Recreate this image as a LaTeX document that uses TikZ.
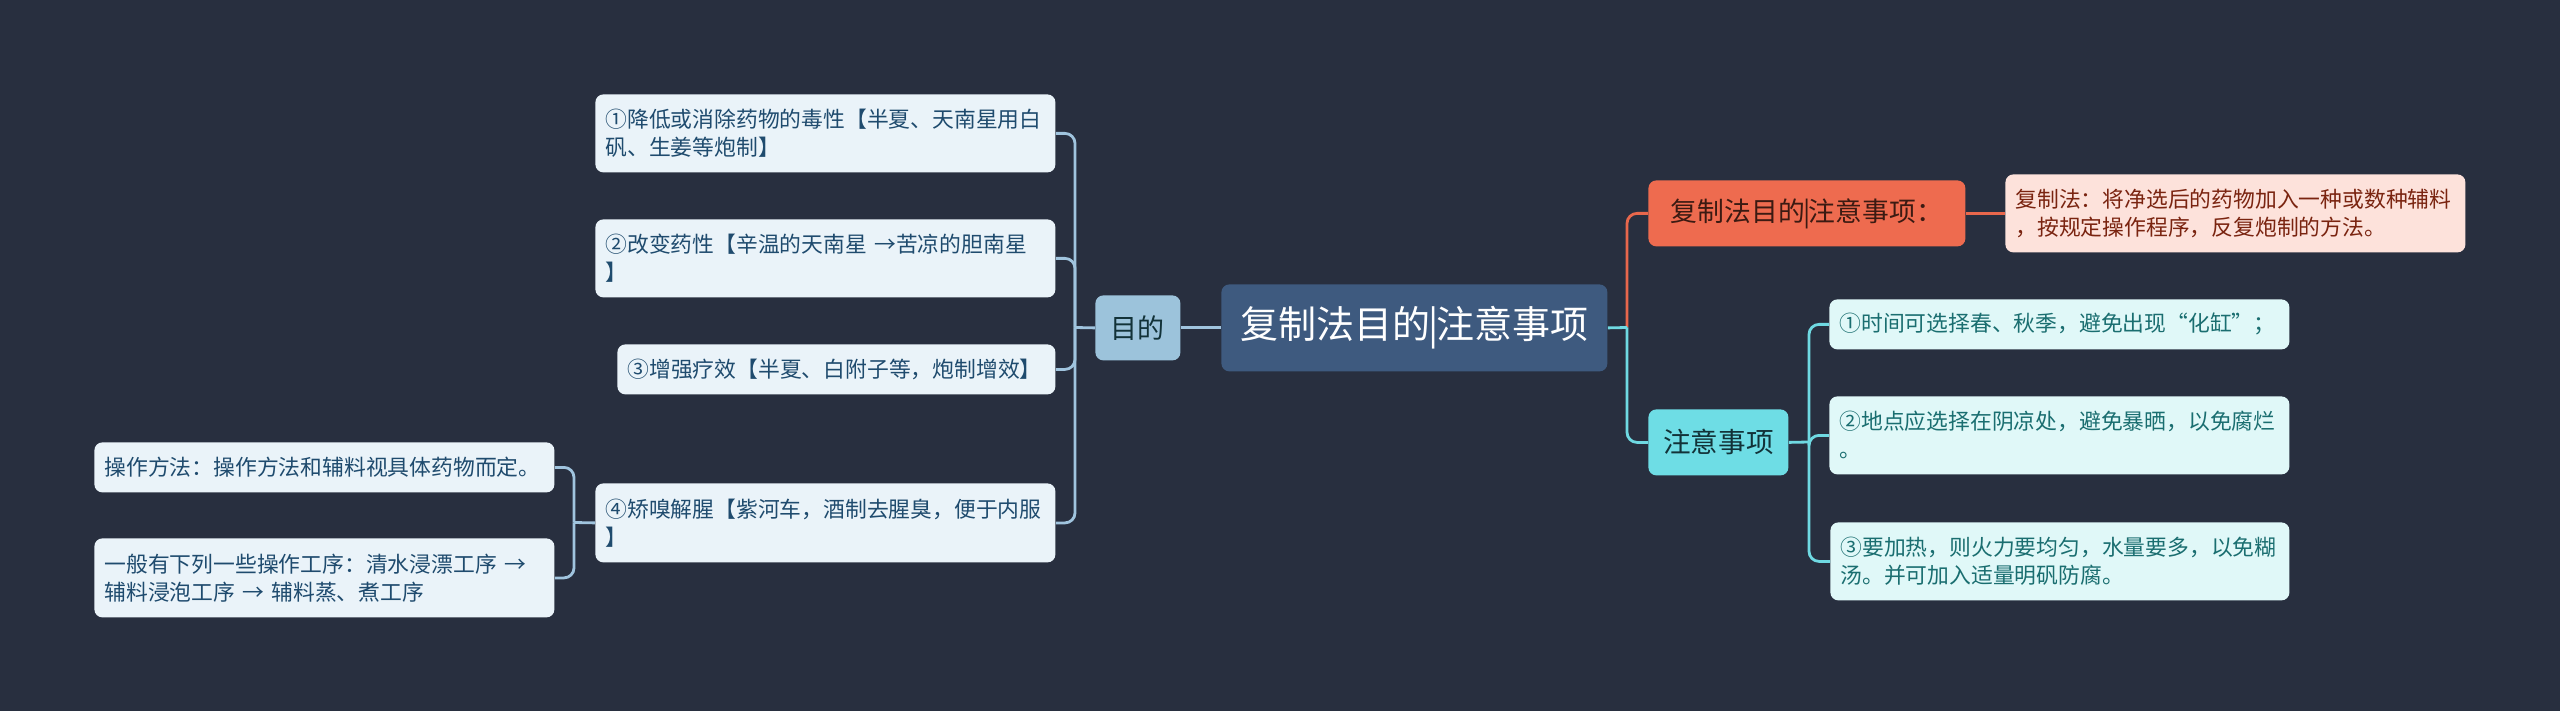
\documentclass[tikz,border=0pt]{standalone}
\usepackage{fontspec}
\setmainfont{Noto Sans CJK SC}
\definecolor{bg}{HTML}{282F3F}
\definecolor{leafL}{HTML}{EAF3F9}
\definecolor{leafLtext}{HTML}{1F4B6E}
\definecolor{mudi}{HTML}{9CC3DB}
\definecolor{mainc}{HTML}{3E5A7F}
\definecolor{orangec}{HTML}{EE6B4F}
\definecolor{orangetext}{HTML}{3B1A12}
\definecolor{deffill}{HTML}{FDE2DB}
\definecolor{deftext}{HTML}{7A2410}
\definecolor{zfill}{HTML}{6EDDE5}
\definecolor{ztext}{HTML}{123238}
\definecolor{rfill}{HTML}{E0F8F8}
\definecolor{rtext}{HTML}{1A6E70}
\definecolor{lblue}{HTML}{A0C4DE}
\definecolor{lorange}{HTML}{E8674C}
\definecolor{lcyan}{HTML}{6FD9E2}
\newcommand{\tightbar}{\kern-0.06em|\kern-0.06em}
\begin{document}
\begin{tikzpicture}[x=0.5pt,y=-0.5pt,
  box/.style={rounded corners=4pt, anchor=north west, inner xsep=5pt, inner ysep=1pt, align=left},
  leafbox/.style={box, font=\fontsize{10.9pt}{14pt}\selectfont},
  lleaf/.style={leafbox, fill=leafL, text=leafLtext},
  rleaf/.style={leafbox, fill=rfill, text=rtext},
  defleaf/.style={leafbox, fill=deffill, text=deftext},
  conn/.style={line width=1.4pt, rounded corners=5pt}
]
\useasboundingbox (0,0) rectangle (2560,711);
\fill[bg] (0,0) rectangle (2560,711);

% central node
\node[box, fill=mainc, text=white, minimum width=193pt, minimum height=43.5pt, inner xsep=0pt, align=center, font=\fontsize{19pt}{22pt}\selectfont] (C) at (1221,284) {复制法目的\tightbar 注意事项};

% left main branch
\node[box, fill=mudi, text=ztext, minimum width=42.5pt, minimum height=32.5pt, inner xsep=0pt, align=center, font=\fontsize{13.5pt}{16pt}\selectfont] (M) at (1095,295) {目的};

\node[lleaf, text width=220pt, minimum height=39pt] (L1) at (595,94) {①降低或消除药物的毒性【半夏、天南星用白\\矾、生姜等炮制】};
\node[lleaf, text width=220pt, minimum height=39pt] (L2) at (595,219) {②改变药性【辛温的天南星 →苦凉的胆南星\\】};
\node[lleaf, text width=209pt, minimum height=25pt] (L3) at (617,344) {③增强疗效【半夏、白附子等，炮制增效】};
\node[lleaf, text width=220pt, minimum height=39.5pt] (L4) at (595,483) {④矫嗅解腥【紫河车，酒制去腥臭，便于内服\\】};
\node[lleaf, text width=220pt, minimum height=25pt] (LL1) at (94,442) {操作方法：操作方法和辅料视具体药物而定。};
\node[lleaf, text width=220pt, minimum height=39.5pt] (LL2) at (94,538) {一般有下列一些操作工序：清水浸漂工序 →\\辅料浸泡工序 → 辅料蒸、煮工序};

% right branches
\node[box, fill=orangec, text=orangetext, minimum width=158.5pt, minimum height=33pt, inner xsep=0pt, align=center, font=\fontsize{13.4pt}{16pt}\selectfont] (O) at (1648,180) {复制法目的\tightbar 注意事项：};
\node[defleaf, text width=220pt, minimum height=39pt] (D) at (2005,174) {复制法：将净选后的药物加入一种或数种辅料\\，按规定操作程序，反复炮制的方法。};

\node[box, fill=zfill, text=ztext, minimum width=70pt, minimum height=33pt, inner xsep=0pt, align=center, font=\fontsize{13.8pt}{16pt}\selectfont] (Z) at (1648,409) {注意事项};

\node[rleaf, text width=220pt, minimum height=25pt] (R1) at (1829,299) {①时间可选择春、秋季，避免出现“化缸”；};
\node[rleaf, text width=220pt, minimum height=39pt] (R2) at (1829,396) {②地点应选择在阴凉处，避免暴晒，以免腐烂\\。};
\node[rleaf, text width=219.5pt, minimum height=39pt] (R3) at (1830,522) {③要加热，则火力要均匀，水量要多，以免糊\\汤。并可加入适量明矾防腐。};

% junction coordinates
\coordinate (mj) at (1075,327.5);
\coordinate (lj) at (574,522.5);
\coordinate (rj) at (1627,327.5);
\coordinate (zj) at (1809,442);

% left connectors
\draw[conn, lblue] (C.west) -- (M.east);
\draw[conn, lblue] (M.west) -- (mj);
\draw[conn, lblue] (mj) |- (L1.east);
\draw[conn, lblue] (mj) |- (L2.east);
\draw[conn, lblue] (mj) |- (L3.east);
\draw[conn, lblue] (mj) |- (L4.east);
\draw[conn, lblue] (L4.west) -- (lj);
\draw[conn, lblue] (lj) |- (LL1.east);
\draw[conn, lblue] (lj) |- (LL2.east);

% right connectors
\draw[conn, lorange] (rj) |- (O.west);
\draw[conn, lcyan] (C.east) -- (rj);
\draw[conn, lcyan] (rj) |- (Z.west);
\draw[conn, lorange] (O.east) -- (D.west);
\draw[conn, lcyan] (Z.east) -- (zj);
\draw[conn, lcyan] (zj) |- (R1.west);
\draw[conn, lcyan] (zj) |- (R2.west);
\draw[conn, lcyan] (zj) |- (R3.west);
\end{tikzpicture}
\end{document}
